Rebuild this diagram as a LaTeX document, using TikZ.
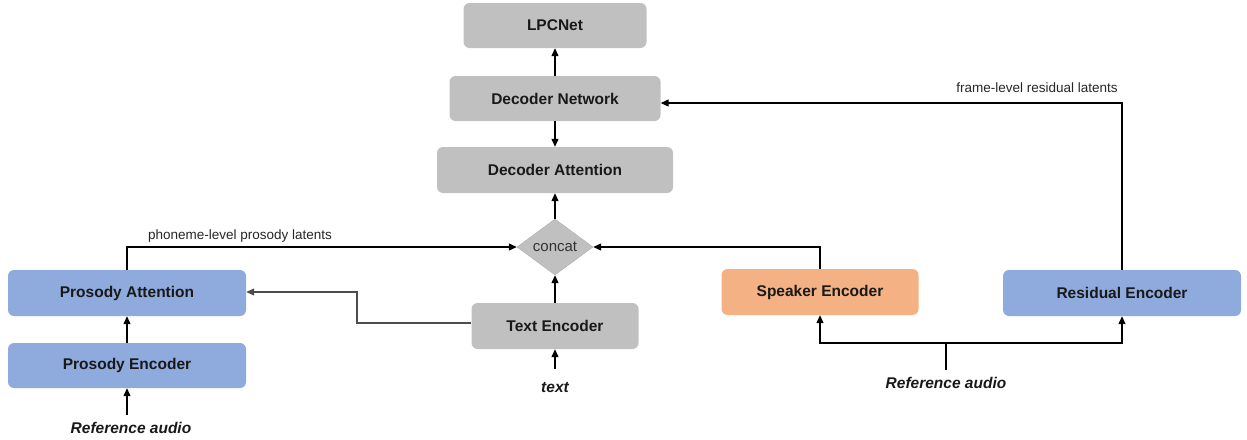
\documentclass[tikz,border=0pt]{standalone}
\usepackage{fontspec}
\setmainfont{Liberation Sans}
\usetikzlibrary{shapes.geometric,arrows.meta}
\definecolor{boxgray}{HTML}{C0C0C0}
\definecolor{boxblue}{HTML}{8FAADC}
\definecolor{boxorange}{HTML}{F4B183}
\tikzset{
  blk/.style={rounded corners=6pt, draw=none, inner sep=0pt, font=\fontsize{15.5}{17}\selectfont\bfseries, text=black!90},
  gbox/.style={blk, fill=boxgray},
  bbox/.style={blk, fill=boxblue},
  obox/.style={blk, fill=boxorange},
  conn/.style={draw=black, line width=1.2pt, -{Triangle[length=8pt,width=7pt]}},
  lbl/.style={font=\fontsize{13.5}{15}\selectfont, text=black!85},
  inp/.style={font=\fontsize{15.5}{17}\selectfont\bfseries\itshape, text=black!90},
}
\begin{document}
\begin{tikzpicture}[x=1pt,y=-1pt]
\useasboundingbox (0,0) rectangle (1247,439);
% boxes
\node[gbox, minimum width=183pt, minimum height=45pt] (lpc) at (555,25.5) {LPCNet};
\node[gbox, minimum width=211pt, minimum height=45pt] (dn) at (555,98.5) {Decoder Network};
\node[gbox, minimum width=236pt, minimum height=46pt] (da) at (555,170) {Decoder Attention};
\node[diamond, fill=boxgray, draw=boxgray!90!black, line width=0.4pt, minimum width=76pt, minimum height=56pt, inner sep=0pt, font=\fontsize{15}{16}\selectfont, text=black!80] (cc) at (555,247) {concat};
\node[gbox, minimum width=167pt, minimum height=46pt] (te) at (555,326) {Text Encoder};
\node[inp] (txt) at (555,388) {text};
\node[bbox, minimum width=238pt, minimum height=46pt] (pa) at (127,293) {Prosody Attention};
\node[bbox, minimum width=238pt, minimum height=45pt] (pe) at (127,365.5) {Prosody Encoder};
\node[inp] (ra1) at (131,428) {Reference audio};
\node[obox, minimum width=197pt, minimum height=46pt] (se) at (820,292) {Speaker Encoder};
\node[bbox, minimum width=238pt, minimum height=46pt] (re) at (1122,293) {Residual Encoder};
\node[inp] (ra2) at (946,383) {Reference audio};
% coordinates
\coordinate (raj) at (946,343);
\coordinate (ra2top) at (946,370);
\coordinate (txtop) at (555,369);
\coordinate (ra1top) at (127,415);
% connectors
\draw[conn] (dn.north) -- (lpc.south);
\draw[conn] (dn.south) -- (da.north);
\draw[conn] (cc.north) -- (da.south);
\draw[conn] (te.north) -- (cc.south);
\draw[conn] (txtop) -- (te.south);
\draw[conn] (pe.north) -- (pa.south);
\draw[conn] (ra1top) -- (pe.south);
\draw[conn] (pa.north) |- (cc.west);
\draw[conn] (se.north) |- (cc.east);
\draw[conn, draw=black!70] (te.west |- 0,323) -- (357,323) |- (pa.east |- 0,292);
\draw[conn] (re.north) |- (dn.east |- 0,103);
\draw[line width=1.2pt] (ra2top) -- (raj);
\draw[conn] (raj) -| (se.south);
\draw[conn] (raj) -| (re.south);
% labels
\node[lbl] (l1) at (240,236) {phoneme-level prosody latents};
\node[lbl] (l2) at (1037,88) {frame-level residual latents};
\end{tikzpicture}
\end{document}
